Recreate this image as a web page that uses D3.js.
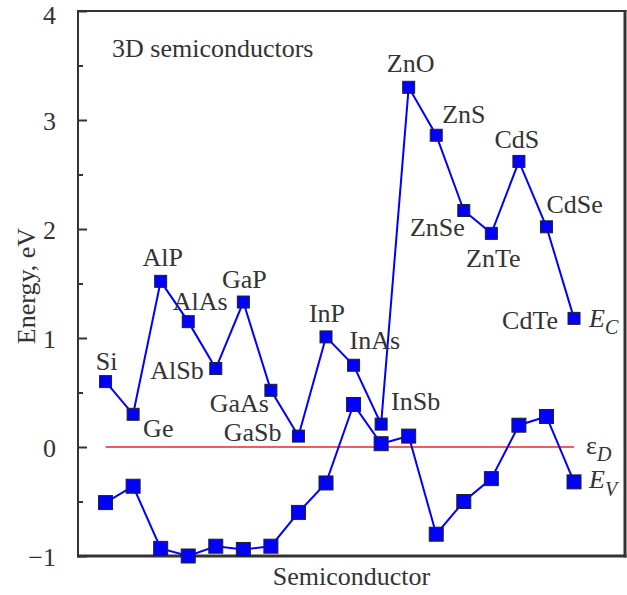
<!DOCTYPE html>
<html>
<head>
<meta charset="utf-8">
<script src="https://cdn.jsdelivr.net/npm/d3@7"></script>
<style>
  html, body { margin: 0; padding: 0; background: #fff; }
  svg { display: block; }
  text { font-family: "Liberation Serif", "Tinos", "Times New Roman", "DejaVu Serif", serif; fill: #333; }
</style>
</head>
<body>
<svg id="chart" width="627" height="595"></svg>
<script>
// ---- data ----
const semiconductors = ["Si","Ge","AlP","AlAs","AlSb","GaP","GaAs","GaSb","InP","InAs","InSb","ZnO","ZnS","ZnSe","ZnTe","CdS","CdSe","CdTe"];
const conductionBand = [0.60,0.30,1.52,1.15,0.72,1.33,0.52,0.10,1.01,0.75,0.21,3.30,2.86,2.17,1.96,2.62,2.02,1.18];
const valenceBand    = [-0.51,-0.36,-0.93,-1.00,-0.91,-0.94,-0.91,-0.60,-0.33,0.39,0.03,0.10,-0.80,-0.50,-0.29,0.20,0.28,-0.32];
const defectLevel = 0;
const yTicks = [-1, 0, 1, 2, 3, 4];
const yMinorTicks = [-0.5, 0.5, 1.5, 2.5, 3.5];

// ---- layout (label placement relative to E_C marker: anchor, dx, dy) ----
const labelPlacement = [
  ["middle", 1, -12], ["start", 10, 23], ["middle", 2, -15], ["middle", 12, -12],
  ["end", -12, 10], ["middle", 1, -14], ["end", -2, 22], ["end", -17, 5],
  ["middle", 1, -15], ["start", -4, -16], ["start", 10, -14], ["middle", 2, -15],
  ["start", 6, -12], ["end", 1, 26], ["middle", 2, 34], ["middle", -2, -13],
  ["start", 0, -14], ["end", -16, 11]
];

const svg = d3.select("#chart");
const L = 78, R = 625, T = 11, B = 556;

const x = d3.scaleLinear().domain([-1, 18.85]).range([L, R]);
const y = d3.scaleLinear().domain([-1, 4]).range([B, T]);

const blue = "#0000ff";

// frame
svg.append("line").attr("x1", L).attr("x2", L).attr("y1", T - 1).attr("y2", B + 1.5)
  .attr("stroke", "#333").attr("stroke-width", 2);
svg.append("line").attr("x1", L - 1).attr("x2", R + 1.5).attr("y1", T).attr("y2", T)
  .attr("stroke", "#333").attr("stroke-width", 2);
svg.append("line").attr("x1", R).attr("x2", R).attr("y1", T - 1).attr("y2", B + 1.5)
  .attr("stroke", "#333").attr("stroke-width", 3);
svg.append("line").attr("x1", L - 1).attr("x2", R + 1.5).attr("y1", B).attr("y2", B)
  .attr("stroke", "#333").attr("stroke-width", 3);

// y axis ticks (inside) and labels
const yAxis = d3.axisLeft(y).tickValues(yTicks).tickSize(-9).tickPadding(22)
  .tickFormat(d => d < 0 ? "\u2212" + Math.abs(d) : d);
const gy = svg.append("g").attr("transform", `translate(${L},0)`).call(yAxis);
gy.attr("font-family", null);
gy.select(".domain").remove();
gy.selectAll(".tick line").attr("stroke", "#333").attr("stroke-width", 2);
gy.selectAll(".tick text").attr("font-size", 26).attr("fill", "#333")
  .attr("dy", d => d === 4 ? "0.48em" : "0.36em");
const yMinor = d3.axisLeft(y).tickValues(yMinorTicks).tickSize(-5).tickFormat("");
const gym = svg.append("g").attr("transform", `translate(${L},0)`).call(yMinor);
gym.select(".domain").remove();
gym.selectAll(".tick line").attr("stroke", "#333").attr("stroke-width", 2);

// defect level line
svg.append("line")
  .attr("x1", x(0)).attr("x2", x(semiconductors.length - 1))
  .attr("y1", y(defectLevel)).attr("y2", y(defectLevel))
  .attr("stroke", "#e8262a").attr("stroke-width", 1.5);

const line = d3.line().x((d, i) => x(i)).y(d => y(d));

// valence band
svg.append("path").datum(valenceBand).attr("d", line)
  .attr("fill", "none").attr("stroke", blue).attr("stroke-width", 2);
// conduction band
svg.append("path").datum(conductionBand).attr("d", line)
  .attr("fill", "none").attr("stroke", blue).attr("stroke-width", 2);

const ev = 14, ec = 12;
svg.append("g").selectAll("rect").data(valenceBand).join("rect")
  .attr("x", (d, i) => x(i) - ev / 2).attr("y", d => y(d) - ev / 2)
  .attr("width", ev).attr("height", ev)
  .attr("fill", blue).attr("stroke", "#222").attr("stroke-width", 1);
svg.append("g").selectAll("rect").data(conductionBand).join("rect")
  .attr("x", (d, i) => x(i) - ec / 2).attr("y", d => y(d) - ec / 2)
  .attr("width", ec).attr("height", ec)
  .attr("fill", blue).attr("stroke", "#222").attr("stroke-width", 1);

// semiconductor labels
svg.append("g").selectAll("text").data(semiconductors).join("text")
  .attr("x", (d, i) => x(i) + labelPlacement[i][1])
  .attr("y", (d, i) => y(conductionBand[i]) + labelPlacement[i][2])
  .attr("text-anchor", (d, i) => labelPlacement[i][0])
  .attr("font-size", 26)
  .text(d => d);

// series labels
const last = semiconductors.length - 1;
const lx = x(last) + 15;
const ecT = svg.append("text").attr("x", lx).attr("y", y(conductionBand[last]) + 9).attr("font-size", 26);
ecT.append("tspan").attr("font-style", "italic").text("E");
ecT.append("tspan").attr("font-style", "italic").attr("font-size", 20).attr("dy", 7).text("C");

const edT = svg.append("text").attr("x", lx - 3).attr("y", y(defectLevel) + 7).attr("font-size", 26);
edT.append("tspan").text("\u03b5");
edT.append("tspan").attr("font-style", "italic").attr("font-size", 20).attr("dy", 7).text("D");

const evT = svg.append("text").attr("x", lx).attr("y", y(valenceBand[last]) + 6).attr("font-size", 26);
evT.append("tspan").attr("font-style", "italic").text("E");
evT.append("tspan").attr("font-style", "italic").attr("font-size", 20).attr("dy", 8).text("V");

// annotation and axis titles
svg.append("text").attr("x", 112).attr("y", 57).attr("font-size", 26).text("3D semiconductors");
svg.append("text").attr("x", (L + R) / 2).attr("y", 585).attr("text-anchor", "middle")
  .attr("font-size", 26).text("Semiconductor");
svg.append("text").attr("transform", "translate(35,286) rotate(-90)")
  .attr("text-anchor", "middle").attr("font-size", 26).text("Energy, eV");
</script>
</body>
</html>
